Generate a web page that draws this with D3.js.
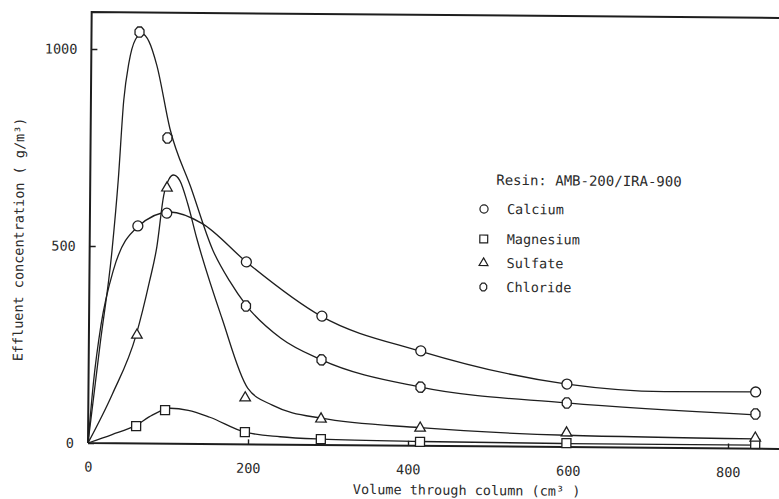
<!DOCTYPE html>
<html>
<head>
<meta charset="utf-8">
<script src="https://cdn.jsdelivr.net/npm/d3@7"></script>
<style>
  html, body { margin: 0; padding: 0; background: #ffffff; }
  svg { display: block; }
  text { font-family: "DejaVu Sans Mono", monospace; fill: #2b2b2b; }
</style>
</head>
<body>
<svg id="chart" width="779" height="499"></svg>
<script>
// Effluent concentration vs. volume through column, resin AMB-200/IRA-900

// sample volumes (cm3) at which each ion was measured
const volumes = [60, 96, 196, 291, 415, 598, 834];

// measured concentrations (g/m3)
const calcium   = [552, 585, 463, 327, 241, 160, 144];
const magnesium = [44, 85, 31, 15, 10, 10, 12];
const sulfate   = [275, 649, 118, 66, 45, 36, 27];
const chloride  = [1044, 776, 351, 216, 149, 112, 88];

// hand-fitted breakthrough curves, [volume, concentration]
const calciumCurve = [[0, 0], [6, 150], [15, 300], [30, 440], [60, 550], [100, 588], [140, 560],
  [196, 463], [290, 327], [415, 240], [598, 160], [720, 143], [834, 144]];
const magnesiumCurve = [[0, 0], [30, 22], [59, 45], [80, 72], [102, 90], [125, 85], [152, 68],
  [196, 31], [240, 20], [291, 15], [415, 11], [598, 9], [834, 9]];
const sulfateCurve = [[0, 0], [30, 125], [59, 275], [75, 410], [84, 500], [92, 630], [98, 670],
  [104, 682], [112, 668], [122, 610], [134, 520], [166, 320], [199, 143], [230, 100],
  [291, 68], [415, 46], [598, 30], [834, 25]];
const chlorideCurve = [[0, 0], [14, 250], [28, 490], [35, 668], [41, 870], [47, 965], [55, 1025],
  [63, 1040], [72, 1020], [82, 960], [99, 800], [126, 650], [154, 492], [175, 415], [197, 351],
  [240, 270], [291, 216], [415, 149], [598, 112], [834, 86]];

const seriesNames = ["Calcium", "Magnesium", "Sulfate", "Chloride"];
const xTicks = [0, 200, 400, 600, 800];
const yTicks = [0, 500, 1000];

const ink = "#1e1e1e";
const svg = d3.select("#chart");

const x = d3.scaleLinear().domain([0, 800]).range([88, 728]);
const y = d3.scaleLinear().domain([0, 1000]).range([443, 49]);

// the whole sheet sits very slightly skewed on the page
const g = svg.append("g").attr("transform", "rotate(0.49 88 443)");

// frame: left axis, top rule and bottom axis running off the right edge
g.append("path")
  .attr("d", `M${x(0)},${y(0)} L${x(0)},12 L800,12 M${x(0)},${y(0)} L800,${y(0)}`)
  .attr("fill", "none").attr("stroke", ink).attr("stroke-width", 2);

const yAxis = g.append("g")
  .attr("transform", `translate(${x(0)},0)`)
  .call(d3.axisLeft(y).tickValues(yTicks).tickSize(-6).tickPadding(14).tickFormat(d3.format("d")));
const xAxis = g.append("g")
  .attr("transform", `translate(0,${y(0)})`)
  .call(d3.axisBottom(x).tickValues(xTicks).tickSize(-5).tickPadding(19).tickFormat(d3.format("d")));
[yAxis, xAxis].forEach(a => {
  a.select(".domain").remove();
  a.attr("font-size", 13.5).attr("font-family", null);
  a.selectAll(".tick line").attr("stroke", ink).attr("stroke-width", 1.4);
});

// curves
const line = d3.line().x(d => x(d[0])).y(d => y(d[1])).curve(d3.curveMonotoneX);
[calciumCurve, magnesiumCurve, sulfateCurve, chlorideCurve].forEach(c => {
  g.append("path").attr("d", line(c))
    .attr("fill", "none").attr("stroke", ink).attr("stroke-width", 1.3);
});

// chloride marker: a slightly tall octagonal "O"
const symbolOval = {
  draw(ctx, size) {
    const r = Math.sqrt(size / Math.PI);
    const rx = r * 0.95, ry = r * 1.08;
    for (let i = 0; i < 8; i++) {
      const a = Math.PI / 8 + i * Math.PI / 4;
      const px = rx * Math.cos(a), py = ry * Math.sin(a);
      if (i === 0) ctx.moveTo(px, py); else ctx.lineTo(px, py);
    }
    ctx.closePath();
  }
};

const markerTypes = [d3.symbolCircle, d3.symbolSquare, d3.symbolTriangle, symbolOval];
const markerSizes = [78, 81, 48, 82];
const legendSizes = [52, 62, 34, 46];
const seriesValues = [calcium, magnesium, sulfate, chloride];

seriesValues.forEach((vals, s) => {
  const sym = d3.symbol().type(markerTypes[s]).size(markerSizes[s]);
  g.append("g").selectAll("path")
    .data(volumes.map((v, i) => [v, vals[i]]))
    .join("path")
    .attr("transform", d => `translate(${x(d[0])},${y(d[1])})`)
    .attr("d", sym)
    .attr("fill", "#ffffff").attr("stroke", ink).attr("stroke-width", 1.3);
});

// legend
g.append("text").attr("x", 494).attr("y", 176.5).attr("dy", "0.35em")
  .attr("font-size", 14).text("Resin: AMB-200/IRA-900");
const legendRows = [205.6, 235.6, 259.6, 283.6];
seriesNames.forEach((name, s) => {
  g.append("path")
    .attr("transform", `translate(482,${legendRows[s]})`)
    .attr("d", d3.symbol().type(markerTypes[s]).size(legendSizes[s]))
    .attr("fill", "none").attr("stroke", ink).attr("stroke-width", 1.2);
  g.append("text").attr("x", 505).attr("y", legendRows[s]).attr("dy", "0.35em")
    .attr("font-size", 13.5).text(name);
});

// axis titles
g.append("text").attr("x", 467).attr("y", 487).attr("dy", "0.35em")
  .attr("text-anchor", "middle").attr("font-size", 13.5)
  .text("Volume through column (cm³ )");
g.append("text").attr("transform", "translate(17,240) rotate(-90)")
  .attr("dy", "0.35em").attr("text-anchor", "middle").attr("font-size", 13.5)
  .text("Effluent concentration ( g/m³)");
</script>
</body>
</html>
